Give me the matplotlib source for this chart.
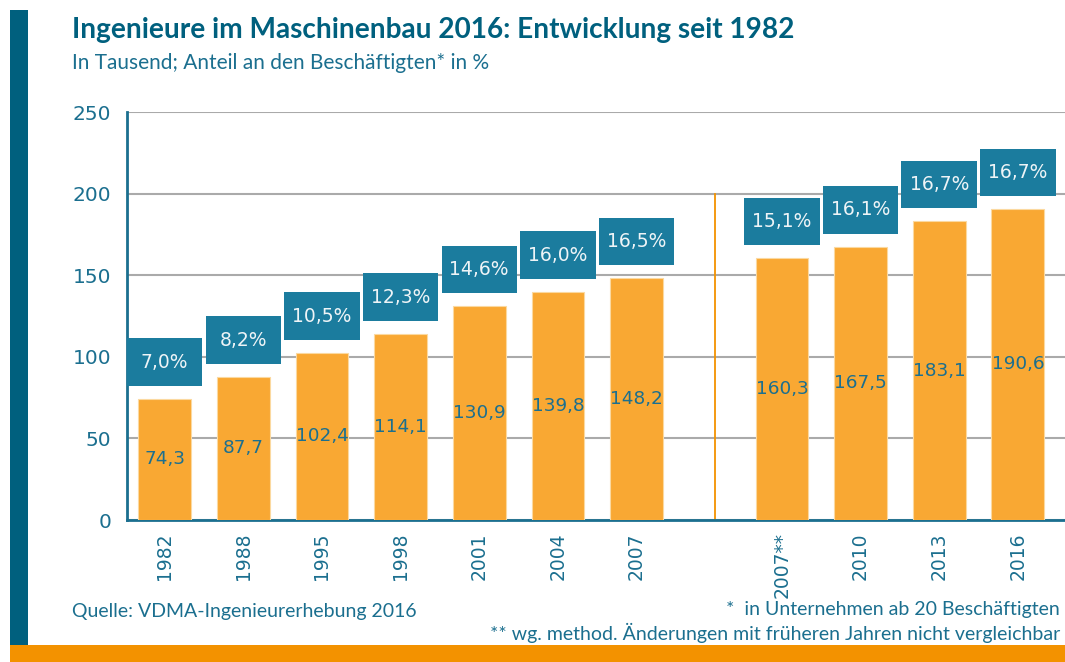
import matplotlib.pyplot as plt
from matplotlib.patches import Rectangle

plt.rcParams['font.family'] = ['Lato', 'DejaVu Sans']
num = ['DejaVu Sans']  # the numbers on the chart use a Verdana-like face

# data
years = ['1982', '1988', '1995', '1998', '2001', '2004', '2007',
         '2007**', '2010', '2013', '2016']
engineers = [74.3, 87.7, 102.4, 114.1, 130.9, 139.8, 148.2,
             160.3, 167.5, 183.1, 190.6]
share = ['7,0%', '8,2%', '10,5%', '12,3%', '14,6%', '16,0%', '16,5%',
         '15,1%', '16,1%', '16,7%', '16,7%']
yticks = [0, 50, 100, 150, 200, 250]

teal = '#1b6f8f'
boxc = '#1b7c9e'
barc = '#f9a833'

# positions: gap after the first 2007 (method change)
pos = [i if i < 7 else i + 0.85 for i in range(len(years))]

fig = plt.figure(figsize=(10.65, 6.62), dpi=100)
ax = fig.add_axes([127 / 1065, 1 - 520 / 662, (1065 - 127) / 1065, 408 / 662])

ax.bar(pos, engineers, width=0.67, color=barc, edgecolor='#fbd9a0', linewidth=0.8, zorder=3)
for x, v, s in zip(pos, engineers, share):
    ax.text(x, v / 2, f'{v:.1f}'.replace('.', ','), ha='center', va='center',
            fontsize=13.3, color=teal, zorder=4, family=num)
    ax.add_patch(Rectangle((x - 0.48, v + 8), 0.96, 29, facecolor=boxc,
                           edgecolor='none', zorder=4))
    ax.text(x, v + 22.5, s, ha='center', va='center', fontsize=13.5,
            color='#eef4f7', zorder=5, family=num)

ax.plot([7.0, 7.0], [0, 200], color='#f39200', linewidth=1.3, zorder=2)

ax.set_xlim(-0.48, 11.45)
ax.set_ylim(0, 250)
ax.set_yticks(yticks)
ax.set_yticklabels([str(t) for t in yticks], family=num, fontsize=14.5)
ax.yaxis.grid(True, color='#aaaaaa', linewidth=1.5, zorder=0)
ax.set_axisbelow(True)
ax.set_xticks(pos)
ax.set_xticklabels(years, rotation=90, family=num, fontsize=13.5)
ax.tick_params(axis='both', length=0, colors=teal)
ax.tick_params(axis='y', pad=11.5)
ax.tick_params(axis='x', pad=9)
for sp in ['top', 'right']:
    ax.spines[sp].set_visible(False)
for sp in ['left', 'bottom']:
    ax.spines[sp].set_color(teal)
    ax.spines[sp].set_linewidth(2)

# frame decorations
fig.patches.append(Rectangle((10 / 1065, 17 / 662), 18 / 1065, 635 / 662,
                             transform=fig.transFigure, facecolor='#00607e',
                             edgecolor='none'))
fig.patches.append(Rectangle((10 / 1065, 0), 1055 / 1065, 17 / 662,
                             transform=fig.transFigure, facecolor='#f39200',
                             edgecolor='none'))

fig.text(72 / 1065, 1 - 30 / 662, 'Ingenieure im Maschinenbau 2016: Entwicklung seit 1982',
         fontsize=20.2, fontweight='bold', color='#00607e', va='center')
fig.text(72 / 1065, 1 - 63 / 662, 'In Tausend; Anteil an den Beschäftigten* in %',
         fontsize=15, color=teal, va='center')

fig.text(72 / 1065, 1 - 611 / 662, 'Quelle: VDMA-Ingenieurerhebung 2016',
         fontsize=14, color=teal, va='center')
fig.text(1060 / 1065, 1 - 610 / 662, '*  in Unternehmen ab 20 Beschäftigten',
         fontsize=14, color=teal, va='center', ha='right')
fig.text(1060 / 1065, 1 - 633 / 662, '** wg. method. Änderungen mit früheren Jahren nicht vergleichbar',
         fontsize=14, color=teal, va='center', ha='right')

fig.savefig('out.png', dpi=100)
